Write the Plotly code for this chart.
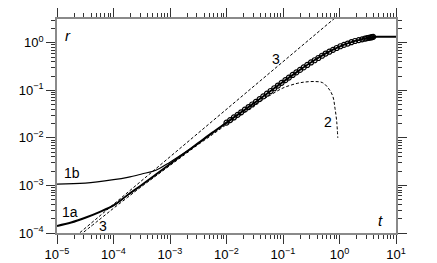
import plotly.graph_objects as go

# ---- data ----
# curve 1a (thick solid)
t1a = [1e-5, 1.78e-5, 3.16e-5, 5.62e-5, 1e-4, 1.78e-4, 3.16e-4, 5.62e-4, 1e-3, 1.78e-3,
       3.16e-3, 5.62e-3, 1e-2, 1.78e-2, 3.16e-2, 5.62e-2, 0.1, 0.178, 0.316, 0.562, 1.0,
       1.78, 3.16, 3.98, 5.0, 10.0]
r1a = [1.41e-4, 1.66e-4, 2.09e-4, 2.75e-4, 3.80e-4, 6.31e-4, 1.02e-3, 1.70e-3, 2.82e-3, 4.68e-3,
       7.76e-3, 1.29e-2, 2.09e-2, 3.39e-2, 5.50e-2, 9.12e-2, 0.151, 0.245, 0.389, 0.589, 0.832,
       1.07, 1.26, 1.33, 1.34, 1.34]
# curve 1b (thin solid)
t1b = [1e-5, 3.16e-5, 1e-4, 1.78e-4, 3.16e-4, 5.62e-4, 1e-3, 1.78e-3, 3.16e-3, 5.62e-3, 1e-2, 1.78e-2]
r1b = [1.07e-3, 1.12e-3, 1.32e-3, 1.48e-3, 1.74e-3, 2.09e-3, 3.09e-3, 4.79e-3, 7.59e-3, 1.26e-2, 2.09e-2, 3.39e-2]
# curve 2 (dashed)
t2 = [2.51e-5, 5.62e-5, 1e-4, 1.78e-4, 3.16e-4, 5.62e-4, 1e-3, 1.78e-3, 3.16e-3, 5.62e-3, 1e-2,
      1.78e-2, 3.16e-2, 5.62e-2, 0.1, 0.178, 0.251, 0.372, 0.501, 0.631, 0.759, 0.832, 0.891, 0.933]
r2 = [8.9e-5, 1.91e-4, 3.31e-4, 5.62e-4, 9.55e-4, 1.58e-3, 2.63e-3, 4.37e-3, 7.24e-3, 1.17e-2, 1.91e-2,
      3.02e-2, 5.01e-2, 7.59e-2, 0.112, 0.140, 0.150, 0.153, 0.145, 0.112, 0.076, 0.042, 0.0224, 0.0100]
# line 3 (dashed power law)
t3 = [1e-5, 1.0]
r3 = [4e-5, 4.0]
# markers on curve 1a
tm = [0.0100, 0.0116, 0.0135, 0.0157, 0.0182, 0.0211, 0.0246, 0.0285, 0.0331, 0.0385, 0.0447,
      0.0519, 0.0603, 0.0700, 0.0813, 0.0944, 0.110, 0.127, 0.148, 0.172, 0.200, 0.232, 0.269,
      0.313, 0.363, 0.422, 0.490, 0.569, 0.661, 0.767, 0.891, 1.035, 1.20, 1.40, 1.62, 1.88,
      2.19, 2.51, 2.82, 3.09, 3.31, 3.51, 3.67, 3.80, 3.94]
rm = [0.0209, 0.0237, 0.0269, 0.0305, 0.0345, 0.0392, 0.0445, 0.0504, 0.0573, 0.0653, 0.0745,
      0.0849, 0.0968, 0.1107, 0.1262, 0.1439, 0.1637, 0.1854, 0.2104, 0.2382, 0.2692, 0.3034, 0.3420,
      0.3855, 0.4295, 0.4786, 0.5333, 0.5943, 0.6486, 0.7096, 0.7762, 0.8453, 0.9016, 0.9638, 1.028, 1.089,
      1.135, 1.180, 1.219, 1.250, 1.274, 1.291, 1.306, 1.318, 1.330]

x_tickvals = [1e-5, 1e-4, 1e-3, 1e-2, 1e-1, 1e0, 1e1]
x_ticktext = ["10<sup>\u22125</sup>", "10<sup>\u22124</sup>", "10<sup>\u22123</sup>", "10<sup>\u22122</sup>",
              "10<sup>\u22121</sup>", "10<sup>0</sup>", "10<sup>1</sup>"]
y_tickvals = [1e-4, 1e-3, 1e-2, 1e-1, 1e0]
y_ticktext = ["10<sup>\u22124</sup>", "10<sup>\u22123</sup>", "10<sup>\u22122</sup>", "10<sup>\u22121</sup>",
              "10<sup>0</sup>"]
minor_mult = [2, 3, 4, 5, 6, 7, 8, 9]
x_minor = [m * d for d in [1e-5, 1e-4, 1e-3, 1e-2, 1e-1, 1e0] for m in minor_mult]
y_minor = [m * d for d in [1e-4, 1e-3, 1e-2, 1e-1] for m in minor_mult] + [2.0, 3.0]

FONT = "Liberation Sans, Arial, Helvetica, sans-serif"

fig = go.Figure()
fig.add_trace(go.Scatter(x=t3, y=r3, mode="lines",
                         line=dict(color="black", width=1, dash="3px,2px")))
fig.add_trace(go.Scatter(x=t2, y=r2, mode="lines", line_shape="spline",
                         line=dict(color="black", width=1, dash="3px,2px")))
fig.add_trace(go.Scatter(x=t1b, y=r1b, mode="lines", line_shape="spline",
                         line=dict(color="black", width=1.2)))
fig.add_trace(go.Scatter(x=t1a, y=r1a, mode="lines", line_shape="spline",
                         line=dict(color="black", width=2)))
fig.add_trace(go.Scatter(x=tm, y=rm, mode="markers",
                         marker=dict(symbol="circle-open", size=5, color="black",
                                     line=dict(width=1.2, color="black"))))

labels = [
    ("<i>r</i>", -4.81, 0.15, 15),
    ("<i>t</i>", 0.73, -3.73, 15),
    ("3", -1.12, -0.35, 14),
    ("2", -0.20, -1.67, 14),
    ("1b", -4.73, -2.74, 14),
    ("1a", -4.77, -3.56, 14),
    ("3", -4.19, -3.85, 14),
]
for txt, lx, ly, fs in labels:
    fig.add_annotation(x=lx, y=ly, text=txt, showarrow=False,
                       font=dict(family=FONT, size=fs, color="black"),
                       xanchor="center", yanchor="middle")

axis_common = dict(
    type="log", showgrid=False, zeroline=False, automargin=False,
    showline=True, linecolor="#8a8a8a", linewidth=1.5,
    ticks="outside", ticklen=9, tickwidth=1, tickcolor="#333",
    mirror="ticks",
    tickfont=dict(family=FONT, size=13, color="black"),
)

fig.update_xaxes(range=[-5, 1], tickmode="array", tickvals=x_tickvals, ticktext=x_ticktext,
                 minor=dict(ticks="outside", ticklen=4, tickwidth=1, tickcolor="#333",
                            showgrid=False, tickmode="array", tickvals=x_minor),
                 **axis_common)
fig.update_yaxes(range=[-4, 0.5], tickmode="array", tickvals=y_tickvals, ticktext=y_ticktext,
                 minor=dict(ticks="outside", ticklen=4, tickwidth=1, tickcolor="#333",
                            showgrid=False, tickmode="array", tickvals=y_minor),
                 **axis_common)

# page body has an 8px margin, so the figure is shifted by (8, 8)
fig.update_layout(
    width=429, height=255,
    margin=dict(l=49, r=41, t=11, b=30),
    showlegend=False,
    plot_bgcolor="white", paper_bgcolor="white",
    font=dict(family=FONT, color="black"),
)

fig.write_html("out.html")
